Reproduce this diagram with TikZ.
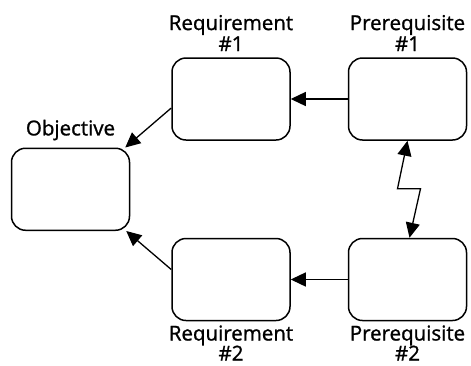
\documentclass[tikz,border=0pt]{standalone}
\usepackage{fontspec}
\setmainfont{Open Sans}
\newfontfamily\labfont{Open Sans}[FakeBold=1.2]
\usepackage{tikz}
\usetikzlibrary{arrows.meta,calc,positioning}
\tikzset{
  goalbox/.style={rectangle,rounded corners=14pt,draw,line width=1.5pt,
    minimum width=118pt,minimum height=82pt,inner sep=0pt},
  lab/.style={align=center,inner sep=0pt,
    font=\labfont\fontsize{20.5}{21}\selectfont},
  arr/.style={-{Triangle[length=15pt,width=14pt]},line width=1.3pt},
  dblarr/.style={{Triangle[length=15pt,width=14pt]}-{Triangle[length=15pt,width=14pt]},
    line width=1.3pt}
}

\begin{document}
\begin{tikzpicture}[node distance=97pt and 57pt]
  \useasboundingbox (0,0) rectangle (471pt,-365pt);
  \node[goalbox] (req1) at (231pt,-99pt) {};
  \node[goalbox,right=of req1] (pre1) {};
  \node[goalbox,below=of req1] (req2) {};
  \node[goalbox,right=of req2] (pre2) {};
  \node[goalbox,left=41pt of {$(req1.west)!0.5!(req2.west)$}] (obj) {};
  % labels
  \node[lab,above=6pt of req1] (req1lab) {Requirement\\\#1};
  \node[lab,above=6pt of pre1] (pre1lab) {Prerequisite\\\#1};
  \node[lab,above=7pt of obj] (objlab) {Objective};
  \node[lab,below=4pt of req2,font=\labfont\fontsize{20.5}{20}\selectfont] (req2lab) {Requirement\\\#2};
  \node[lab,below=4pt of pre2,font=\labfont\fontsize{20.5}{20}\selectfont] (pre2lab) {Prerequisite\\\#2};
  % connectors
  \draw[arr] (pre1) -- (req1);
  \draw[arr] (pre2) -- (req2);
  \draw[arr] ($(req1.west)+(0,-9pt)$) -- ($(obj.north east)+(-5pt,0)$);
  \draw[arr] ($(req2.west)+(0,10pt)$) -- ($(obj.south east)+(-4pt,0)$);
  \draw[dblarr] (pre1.south) -- ++(-10pt,-48pt) -- ++(23pt,0)
    -- ($(pre2.north)+(2pt,0)$);
\end{tikzpicture}
\end{document}
